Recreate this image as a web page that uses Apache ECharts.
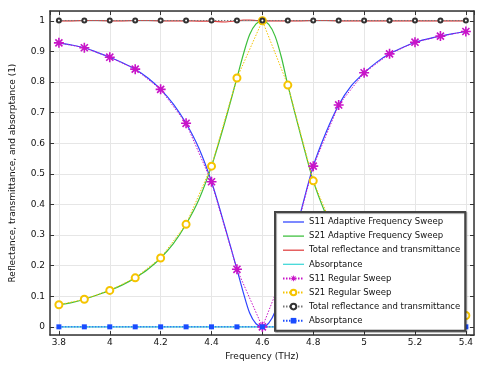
<!DOCTYPE html>
<html>
<head>
<meta charset="utf-8">
<script src="https://cdn.jsdelivr.net/npm/echarts@6/dist/echarts.min.js"></script>
<style>
html,body{margin:0;padding:0;background:#fff;}
#chart{width:479px;height:366px;}
</style>
</head>
<body>
<div id="chart"></div>
<script>
// Regular sweep (17 points)
var freqRegular = [3.8, 3.9, 4.0, 4.1, 4.2, 4.3, 4.4, 4.5, 4.6, 4.7, 4.8, 4.9, 5.0, 5.1, 5.2, 5.3, 5.4];
var s11Regular = [0.928, 0.912, 0.881, 0.842, 0.776, 0.665, 0.474, 0.188, 0.000, 0.210, 0.525, 0.725, 0.830, 0.892, 0.930, 0.950, 0.965];
var s21Regular = [0.072, 0.090, 0.119, 0.160, 0.225, 0.335, 0.525, 0.813, 1.000, 0.790, 0.477, 0.275, 0.170, 0.110, 0.070, 0.050, 0.037];
var totalRegular = [1.001, 1.001, 1.001, 1.001, 1.001, 1.001, 1.001, 1.001, 1.001, 1.001, 1.001, 1.001, 1.001, 1.001, 1.001, 1.001, 1.001];
var absRegular = [0, 0, 0, 0, 0, 0, 0, 0, 0, 0, 0, 0, 0, 0, 0, 0, 0];

// Adaptive frequency sweep
var freqAdaptive = [3.80, 3.85, 3.90, 3.95, 4.00, 4.05, 4.10, 4.15, 4.20, 4.25, 4.30, 4.35, 4.40, 4.45, 4.50, 4.525, 4.55, 4.575, 4.60, 4.625, 4.65, 4.675, 4.70, 4.75, 4.80, 4.85, 4.90, 4.95, 5.00, 5.05, 5.10, 5.15, 5.20, 5.25, 5.30, 5.35, 5.40];
var s11Adaptive = [0.928, 0.921, 0.912, 0.897, 0.881, 0.863, 0.842, 0.813, 0.776, 0.728, 0.665, 0.584, 0.474, 0.335, 0.188, 0.112, 0.045, 0.010, 0.000, 0.012, 0.050, 0.120, 0.210, 0.372, 0.525, 0.635, 0.725, 0.788, 0.830, 0.865, 0.892, 0.912, 0.930, 0.941, 0.950, 0.958, 0.965];
var s21Adaptive = [0.072, 0.079, 0.090, 0.104, 0.119, 0.137, 0.160, 0.188, 0.225, 0.272, 0.335, 0.415, 0.525, 0.662, 0.813, 0.890, 0.955, 0.990, 1.000, 0.988, 0.950, 0.880, 0.790, 0.628, 0.477, 0.366, 0.275, 0.212, 0.170, 0.135, 0.110, 0.089, 0.070, 0.059, 0.050, 0.043, 0.037];
var totalAdaptive = [1.000, 1.000, 1.001, 1.001, 1.000, 1.000, 1.001, 1.001, 1.000, 1.000, 1.000, 0.999, 0.999, 0.996, 1.000, 1.002, 1.002, 1.001, 1.000, 1.000, 1.000, 1.000, 1.000, 1.000, 1.001, 1.001, 1.000, 1.000, 1.000, 1.000, 1.000, 1.000, 1.000, 1.000, 1.000, 1.000, 1.000];
var absAdaptive = [0, 0, 0, 0, 0, 0, 0, 0, 0, 0, 0, 0, 0, 0, 0, 0, 0, 0, 0, 0, 0, 0, 0, 0, 0, 0, 0, 0, 0, 0, 0, 0, 0, 0, 0, 0, 0];

var seriesNames = ['S11 Adaptive Frequency Sweep', 'S21 Adaptive Frequency Sweep', 'Total reflectance and transmittance', 'Absorptance', 'S11 Regular Sweep', 'S21 Regular Sweep', 'Total reflectance and transmittance ', 'Absorptance '];
var legendLabels = ['S11 Adaptive Frequency Sweep', 'S21 Adaptive Frequency Sweep', 'Total reflectance and transmittance', 'Absorptance', 'S11 Regular Sweep', 'S21 Regular Sweep', 'Total reflectance and transmittance', 'Absorptance'];

function pairs(xs, ys) { return xs.map(function (x, i) { return [x, ys[i]]; }); }

var starPath = 'path://M-1.6,-10L1.6,-10L1.6,10L-1.6,10Z M-10,-1.6L10,-1.6L10,1.6L-10,1.6Z M-8.2,-5.9L-5.9,-8.2L8.2,5.9L5.9,8.2Z M-5.9,8.2L-8.2,5.9L5.9,-8.2L8.2,-5.9Z';
var lineIcon = 'path://M0,0L40,0L40,2.4L0,2.4Z';

var FONT = 'DejaVu Sans';
var chart = echarts.init(document.getElementById('chart'), null, {renderer: 'canvas'});

function adaptive(name, ys, color) {
  return {
    name: name, type: 'line', xAxisIndex: 0, yAxisIndex: 0,
    data: pairs(freqAdaptive, ys), symbol: 'none', showSymbol: false, smooth: 0.3,
    lineStyle: {color: color, width: 1.2}, itemStyle: {color: color}, animation: false, z: 2
  };
}
function regular(name, ys, color, symbol, size, itemStyle) {
  return {
    name: name, type: 'line', xAxisIndex: 0, yAxisIndex: 0,
    data: pairs(freqRegular, ys), symbol: symbol, symbolSize: size, showAllSymbol: true,
    lineStyle: {color: color, width: 1, type: [1.5, 1.5]},
    itemStyle: itemStyle || {color: color}, animation: false, z: 3
  };
}

var legendData = seriesNames.map(function (n, i) {
  return i < 4 ? {name: n, icon: lineIcon} : {name: n};
});

var option = {
  backgroundColor: '#fff',
  animation: false,
  textStyle: {fontFamily: FONT},
  grid: {left: 45, right: 5, top: 11, bottom: 23, containLabel: false},
  legend: {
    orient: 'vertical', left: 275, top: 212,
    data: legendData,
    formatter: function (n) { return legendLabels[seriesNames.indexOf(n)]; },
    itemWidth: 21, itemHeight: 7, itemGap: 4.1,
    padding: [5, 5, 5, 7],
    backgroundColor: '#fff', borderColor: '#444', borderWidth: 2,
    shadowColor: 'rgba(0,0,0,0.35)', shadowOffsetX: 1, shadowOffsetY: 1, shadowBlur: 1,
    textStyle: {fontFamily: FONT, fontSize: 8.5, color: '#111', lineHeight: 10},
    selectedMode: false
  },
  xAxis: [{
    type: 'value', min: 3.765, max: 5.432, splitNumber: 8, position: 'bottom',
    name: 'Frequency (THz)', nameLocation: 'middle', nameGap: 11,
    nameTextStyle: {fontFamily: FONT, fontSize: 9, color: '#111'},
    axisLine: {show: true, onZero: false, lineStyle: {color: '#333', width: 1.5}},
    axisTick: {show: true, inside: true, length: 4, lineStyle: {color: '#333'}},
    axisLabel: {fontFamily: FONT, fontSize: 9, color: '#111', margin: 3, showMinLabel: false, showMaxLabel: false},
    splitLine: {show: true, lineStyle: {color: '#e6e6e6', width: 1}}
  }, {
    type: 'value', min: 3.765, max: 5.432, splitNumber: 8, position: 'top',
    axisLine: {show: true, onZero: false, lineStyle: {color: '#333', width: 1.5}},
    axisTick: {show: true, inside: true, length: 4, lineStyle: {color: '#333'}},
    axisLabel: {show: false}, splitLine: {show: false}
  }],
  yAxis: [{
    type: 'value', min: -0.027, max: 1.032, splitNumber: 10, position: 'left',
    name: 'Reflectance, transmittance, and absorptance (1)', nameLocation: 'middle', nameGap: 33,
    nameTextStyle: {fontFamily: FONT, fontSize: 9, color: '#111'},
    axisLine: {show: true, onZero: false, lineStyle: {color: '#333', width: 1.5}},
    axisTick: {show: true, inside: true, length: 4, lineStyle: {color: '#333'}},
    axisLabel: {fontFamily: FONT, fontSize: 9, color: '#111', margin: 5, showMinLabel: false, showMaxLabel: false},
    splitLine: {show: true, lineStyle: {color: '#e6e6e6', width: 1}}
  }, {
    type: 'value', min: -0.027, max: 1.032, splitNumber: 10, position: 'right',
    axisLine: {show: true, onZero: false, lineStyle: {color: '#333', width: 1.5}},
    axisTick: {show: true, inside: true, length: 4, lineStyle: {color: '#333'}},
    axisLabel: {show: false}, splitLine: {show: false}
  }],
  series: [
    adaptive(seriesNames[0], s11Adaptive, '#2f43ff'),
    adaptive(seriesNames[1], s21Adaptive, '#3cbf3c'),
    adaptive(seriesNames[2], totalAdaptive, '#e04040'),
    adaptive(seriesNames[3], absAdaptive, '#3fd8d8'),
    regular(seriesNames[4], s11Regular, '#c814c8', starPath, 10),
    regular(seriesNames[5], s21Regular, '#f5c400', 'emptyCircle', 7, {color: '#f5c400', borderWidth: 1.1}),
    regular(seriesNames[6], totalRegular, '#777777', 'emptyCircle', 4, {color: '#333333', borderWidth: 1.1}),
    regular(seriesNames[7], absRegular, '#1a4cff', 'rect', 5)
  ]
};
chart.setOption(option);
</script>
</body>
</html>
